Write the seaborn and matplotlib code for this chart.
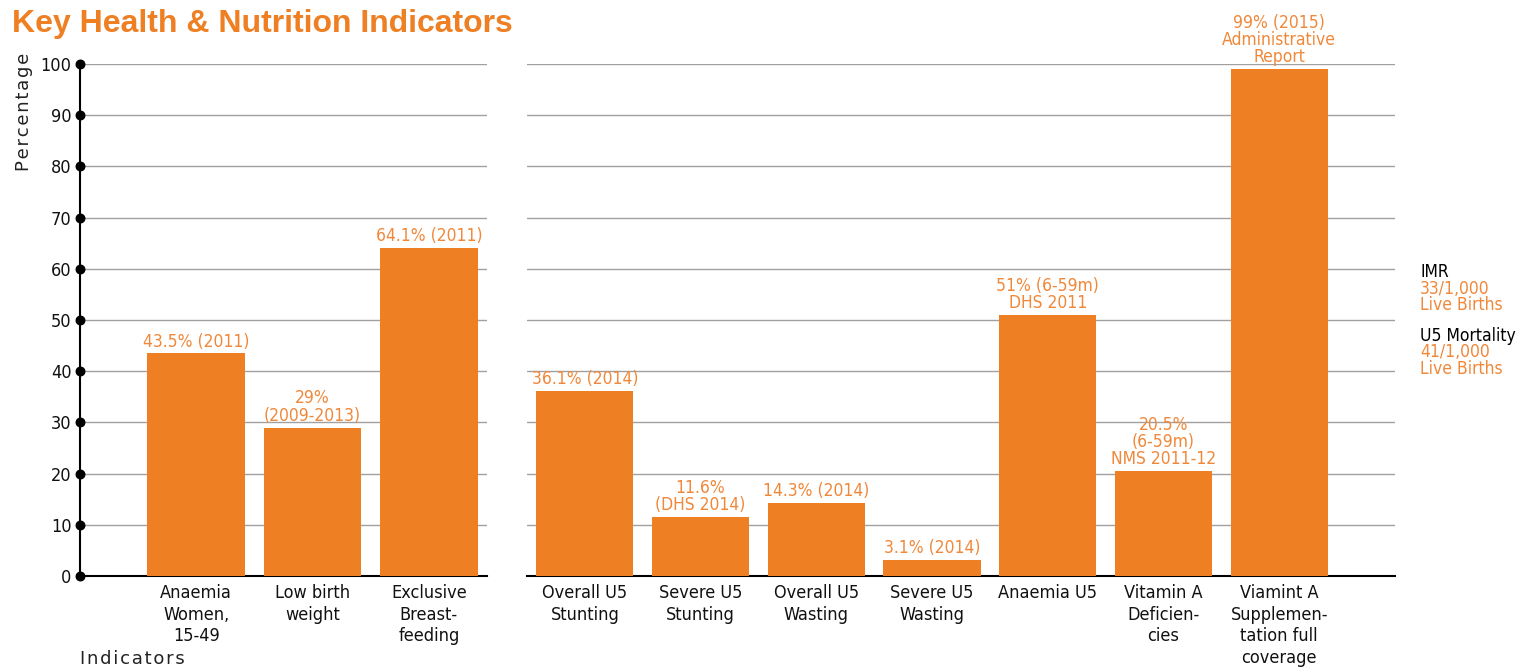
import matplotlib
matplotlib.use("Agg")
import matplotlib.pyplot as plt
import seaborn as sns

# data
left_cats = ["Anaemia\nWomen,\n15-49", "Low birth\nweight", "Exclusive\nBreast-\nfeeding"]
left_vals = [43.5, 29, 64.1]
left_labels = ["43.5% (2011)", "29%\n(2009-2013)", "64.1% (2011)"]

right_cats = ["Overall U5\nStunting", "Severe U5\nStunting", "Overall U5\nWasting",
              "Severe U5\nWasting", "Anaemia U5", "Vitamin A\nDeficien-\ncies",
              "Viamint A\nSupplemen-\ntation full\ncoverage"]
right_vals = [36.1, 11.6, 14.3, 3.1, 51, 20.5, 99]
right_labels = ["36.1% (2014)", "11.6%\n(DHS 2014)", "14.3% (2014)", "3.1% (2014)",
                "51% (6-59m)\nDHS 2011", "20.5%\n(6-59m)\nNMS 2011-12",
                "99% (2015)\nAdministrative\nReport"]

y_ticks = list(range(0, 101, 10))

ORANGE = "#EE7F22"
LABEL_ORANGE = "#F0883A"
GRID = "#a0a0a0"

sns.set_style("white")
plt.rcParams["font.family"] = ["DejaVu Sans"]
plt.rcParams["font.stretch"] = "condensed"  # picks DejaVu Sans Condensed

W, H = 1519, 668
fig = plt.figure(figsize=(W / 100, H / 100), dpi=100)


def px(x0, y_top, w, h):
    return [x0 / W, 1 - (y_top + h) / H, w / W, h / H]


ax1 = fig.add_axes(px(80, 64, 407, 512))
ax2 = fig.add_axes(px(527, 64, 868, 512))


def draw_panel(ax, cats, vals, labels, xlim):
    sns.barplot(x=cats, y=vals, color=ORANGE, width=0.84, saturation=1, linewidth=0,
                ax=ax, zorder=3)
    ax.set_ylim(0, 100)
    ax.set_xlim(*xlim)
    ax.set_yticks(y_ticks)
    ax.yaxis.grid(True, color=GRID, linewidth=1.0)
    ax.set_axisbelow(True)
    for s in ["top", "right", "left"]:
        ax.spines[s].set_visible(False)
    ax.spines["bottom"].set_color("black")
    ax.spines["bottom"].set_linewidth(1.5)
    ax.tick_params(axis="x", length=0, labelsize=13, pad=6, labelcolor="#111111")
    for t in ax.get_xticklabels():
        t.set_linespacing(1.25)
        t.set_va("top")
    texts = ax.bar_label(ax.containers[0], labels=labels, padding=2,
                         color=LABEL_ORANGE, fontsize=12.5)
    for t in texts:
        t.set_linespacing(0.95)
    ax.set_xlabel("")
    ax.set_ylabel("")


draw_panel(ax1, left_cats, left_vals, left_labels, (-1.0, 2.5))
draw_panel(ax2, right_cats, right_vals, right_labels, (-0.5, 7.0))

# left axis with dotted ticks
ax1.spines["left"].set_visible(True)
ax1.spines["left"].set_color("black")
ax1.spines["left"].set_linewidth(1.5)
ax1.tick_params(axis="y", length=0, labelsize=13, pad=6, labelcolor="#111111")
ax1.scatter([ax1.get_xlim()[0]] * len(y_ticks), y_ticks, s=38, color="black",
            clip_on=False, zorder=5)
ax2.tick_params(axis="y", left=False, labelleft=False)

fig.text(12 / W, 1 - 24 / H, "Key Health & Nutrition Indicators", color=ORANGE,
         fontsize=23, fontweight="bold", va="center", ha="left",
         family=["Liberation Sans", "DejaVu Sans"], stretch="normal")
fig.text(24 / W, 1 - 112 / H, "P e r c e n t a g e".replace(" ", "\u200a"), rotation=90,
         fontsize=13, va="center", ha="center", color="#222222", stretch="normal")
fig.text(80 / W, 1 - 659 / H, "I n d i c a t o r s".replace(" ", "\u200a"), fontsize=13,
         va="center", ha="left", color="#222222", stretch="normal")

side = [("IMR", "black", 272), ("33/1,000", LABEL_ORANGE, 289), ("Live Births", LABEL_ORANGE, 305),
        ("U5 Mortality", "black", 336), ("41/1,000", LABEL_ORANGE, 352),
        ("Live Births", LABEL_ORANGE, 369)]
for txt, col, y in side:
    fig.text(1420 / W, 1 - y / H, txt, color=col, fontsize=12.5, va="center", ha="left")

fig.savefig("out.png", dpi=100)
